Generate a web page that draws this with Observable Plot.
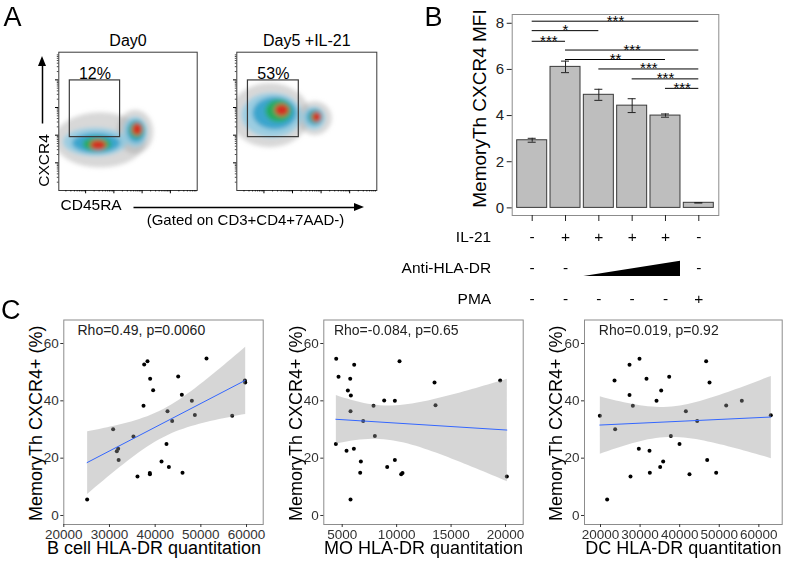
<!DOCTYPE html>
<html><head><meta charset="utf-8">
<script src="https://cdn.jsdelivr.net/npm/d3@7"></script>
<script src="https://cdn.jsdelivr.net/npm/@observablehq/plot@0.6"></script>
<style>
html,body{margin:0;padding:0;background:#fff;}
#fig{position:relative;width:787px;height:566px;overflow:hidden;font-family:"Liberation Sans",Arial,Helvetica,sans-serif;}
</style></head>
<body><div id="fig"></div>
<script>
// ---------------- DATA ----------------
// Panel A: flow cytometry (log decades of CD45RA (x) and CXCR4 (y))
const flowPanels = ["Day0", "Day5 +IL-21"];
const gatePct = ["12%", "53%"];
const gateX = [0.44, 2.22];
const gateY = [1.93, 3.98];
// density blobs: panel, layer (0 gray .. 4 red), centre, half-extent
const blobPanel = [0,0,0,0,0,0,0,0,0,0, 1,1,1,1,1,1,1,1,1,1];
const blobLayer = [0,0,1,1,2,2,3,3,4,4, 0,0,1,1,2,2,3,3,4,4];
const blobX  = [1.53,2.77,1.35,2.77,1.39,2.80,1.42,2.82,1.46,2.84, 1.22,2.79,1.29,2.76,1.39,2.79,1.53,2.83,1.64,2.86];
const blobY  = [1.81,2.10,1.74,2.10,1.70,2.13,1.66,2.17,1.63,2.20, 2.71,2.60,2.71,2.60,2.78,2.64,2.86,2.64,2.89,2.64];
const blobSX = [1.63,0.64,1.13,0.42,0.85,0.32,0.50,0.25,0.28,0.18, 1.40,0.60,1.05,0.39,0.77,0.28,0.46,0.21,0.25,0.16];
const blobSY = [1.00,0.80,0.50,0.54,0.36,0.40,0.25,0.29,0.18,0.22, 1.16,0.61,0.80,0.40,0.58,0.29,0.40,0.22,0.22,0.18];
const flowMajor = [1, 2, 3, 4];

// Panel B: bar chart
const conditions = [1, 2, 3, 4, 5, 6];
const barMeans = [2.93, 6.11, 4.90, 4.43, 4.00, 0.22];
const barSE    = [0.085, 0.25, 0.24, 0.30, 0.07, 0.01];
const yTicksB  = [0, 2, 4, 6, 8];
const sigFrom  = [1, 1, 1, 2, 2, 3, 4, 5];
const sigTo    = [6, 3, 2, 6, 5, 6, 6, 6];
const sigY     = [8.09, 7.68, 7.22, 6.84, 6.43, 6.02, 5.59, 5.18];
const sigLabel = ["***", "*", "***", "***", "**", "***", "***", "***"];
const rowNames = ["IL-21", "Anti-HLA-DR", "PMA"];
const il21  = ["-", "+", "+", "+", "+", "-"];
const antiDR = ["-", "-", "", "", "", "-"];
const pma   = ["-", "-", "-", "-", "-", "+"];
const wedgeX = [2.55, 5.45];
const wedgeTop = [2.26, 1.77];
const wedgeBase = [2.26, 2.26];

// Panel C: scatter plots
const cYTicks = [0, 20, 40, 60];
const bcellX = [25110,30800,31600,31900,32000,35250,36130,37450,37600,38320,38900,38830,38850,39560,41390,42480,42700,43000,43720,45040,45840,45990,48030,48690,51240,56860,59640,59710];
const bcellY = [5.6,30.1,22.4,23.3,19.4,27.6,13.6,38.3,52.7,53.8,47.7,14.8,14.4,43.7,18.8,24.9,36.4,16.9,33.0,48.5,42.1,14.9,40.0,35.1,54.8,34.8,47.1,46.4];
const moX = [4449,4663,4418,5520,5735,5796,5765,6102,5398,6071,5765,6714,6653,6928,7877,8000,8857,9132,9836,9836,10265,10418,10541,13479,13571,19509,20121];
const moY = [54.7,48.4,24.9,43.6,47.7,41.9,36.4,52.6,22.6,23.3,5.6,18.8,14.9,33.0,38.3,27.7,40.1,16.9,40.0,19.4,53.8,14.4,14.8,46.4,38.5,47.1,13.6];
const dcX = [19830,21680,23540,23700,27330,27330,27580,28170,29850,29680,31620,32380,32460,34150,35330,35070,35830,37350,37770,39960,41560,42480,44420,46690,47540,46950,49220,51750,55700,63030];
const dcY = [34.8,5.6,47.1,30.1,52.6,42.0,13.6,38.3,54.7,23.3,47.7,22.6,14.9,40.0,43.6,16.9,18.8,48.4,27.7,24.9,36.4,14.4,33.0,53.8,46.4,19.4,14.9,38.4,40.0,35.0];
const cTitles = ["B cell HLA-DR quantitation", "MO HLA-DR quantitation", "DC HLA-DR quantitation"];
const cRho = ["Rho=0.49, p=0.0060", "Rho=-0.084, p=0.65", "Rho=0.019, p=0.92"];
const cRhoX = [23000, 4240, 19570];
const cRhoY = 64.4;
const cXTicks = [[20000,30000,40000,50000,60000],[5000,10000,15000,20000],[20000,30000,40000,50000,60000]];

// ---------------- LAYOUT / STYLE ----------------
const FONT = "'Liberation Sans', Arial, Helvetica, sans-serif";
const layerColor = ["#a8a8a8", "#8ccbe3", "#2b9fc9", "#22ad4a", "#e3241b"];
const layerOpacity = [0.45, 0.8, 0.85, 0.85, 0.92];
const fig = document.getElementById("fig");
function place(el, left, top) {
  el.style.position = "absolute"; el.style.left = left + "px"; el.style.top = top + "px";
  el.style.overflow = "visible"; fig.appendChild(el); return el;
}
const styleOf = (fs) => ({fontFamily: FONT, fontSize: fs + "px", background: "transparent", color: "#000", overflow: "visible"});
const empty = () => "";

// ---------------- PANEL A ----------------
const minorTicks = [];
for (const d of [0, 1, 2, 3, 4]) for (let k = 2; k <= 9; k++) { const v = d + Math.log10(k); if (v > 0.06 && v < 4.95) minorTicks.push(v); }
const minorY = minorTicks.filter(v => v < 5);

function flowPlot(p, left, frameW) {
  const blobs = blobPanel.map((pp, i) => ({pp, layer: blobLayer[i], x: blobX[i], y: blobY[i], sx: blobSX[i], sy: blobSY[i]})).filter(d => d.pp === p);
  const gate = [{x1: gateX[0], x2: gateX[1], y1: gateY[0], y2: gateY[1], pct: gatePct[p]}];
  const svg = Plot.plot({
    width: 170, height: 160, marginLeft: 18.3, marginRight: 170 - 18.3 - frameW, marginTop: 11.7, marginBottom: 10,
    style: styleOf(16),
    x: {domain: [0.05, 4.95]}, y: {domain: [0, 5]}, color: {type: "identity"},
    marks: [
      Plot.rect(blobs, {x1: d => d.x - d.sx, x2: d => d.x + d.sx, y1: d => d.y - d.sy, y2: d => d.y + d.sy,
        fill: d => layerColor[d.layer], fillOpacity: d => layerOpacity[d.layer], rx: 1000, ry: 1000, clip: true}),
      Plot.rect(gate, {x1: "x1", x2: "x2", y1: "y1", y2: "y2", fill: "none", stroke: "#3a3a3a", strokeWidth: 1.2}),
      Plot.text(gate, {x: d => (d.x1 + d.x2) / 2, y: "y2", text: "pct", lineAnchor: "bottom", dy: -1.5, fontSize: 16, fill: "#000"}),
      Plot.text([flowPanels[p]], {frameAnchor: "top", text: d => d, textAnchor: "middle", lineAnchor: "bottom", dy: -6.5, fontSize: 16, fill: "#000"}),
      Plot.frame({stroke: "#3a3a3a", strokeWidth: 1}),
      Plot.axisY({ticks: flowMajor, tickSize: 3.3, tickFormat: empty, label: null}),
      Plot.axisY({ticks: minorY, tickSize: 1.5, tickFormat: empty, label: null, strokeOpacity: 0.7}),
      Plot.axisX({ticks: flowMajor, tickSize: 3.3, tickFormat: empty, label: null}),
      Plot.axisX({ticks: minorTicks, tickSize: 1.5, tickFormat: empty, label: null, strokeOpacity: 0.7})
    ]
  });
  const ns = "http://www.w3.org/2000/svg";
  const defs = document.createElementNS(ns, "defs");
  defs.innerHTML = `<filter id="blur${p}" x="-50%" y="-50%" width="200%" height="200%"><feGaussianBlur stdDeviation="2.2"/></filter>`;
  svg.prepend(defs);
  const g = svg.querySelector('g[aria-label="rect"]');
  if (g) g.setAttribute("filter", `url(#blur${p})`);
  return place(svg, left, 40);
}
flowPlot(0, 40, 138.4);
flowPlot(1, 218.4, 140);

// ---------------- PANEL B ----------------
const bars = conditions.map((c, i) => ({i: c, mean: barMeans[i], se: barSE[i]}));
const sig = sigFrom.map((f, i) => ({from: f, to: sigTo[i], y: sigY[i], label: sigLabel[i]}));
place(Plot.plot({
  width: 290, height: 230, marginLeft: 71.7, marginRight: 11.7, marginTop: 14, marginBottom: 15,
  style: styleOf(15),
  x: {domain: [0.4, 6.6]}, y: {domain: [-0.33, 8.38]},
  marks: [
    Plot.rect(bars, {x1: d => d.i - 0.45, x2: d => d.i + 0.45, y1: 0, y2: "mean", fill: "#bebebe", stroke: "#3a3a3a", strokeWidth: 1}),
    Plot.ruleX(bars, {x: "i", y1: d => d.mean - d.se, y2: d => d.mean + d.se, stroke: "#222"}),
    Plot.ruleY(bars, {x1: d => d.i - 0.12, x2: d => d.i + 0.12, y: d => d.mean + d.se, stroke: "#222"}),
    Plot.ruleY(bars, {x1: d => d.i - 0.12, x2: d => d.i + 0.12, y: d => d.mean - d.se, stroke: "#222"}),
    Plot.ruleY(sig, {x1: "from", x2: "to", y: "y", stroke: "#000", strokeWidth: 1}),
    Plot.text(sig, {x: d => (d.from + d.to) / 2, y: "y", text: "label", fontSize: 15, lineAnchor: "bottom", dy: 4.5, fill: "#000"}),
    Plot.frame({stroke: "#8c8c8c"}),
    Plot.axisY({ticks: yTicksB, tickSize: 5, tickPadding: 3, fontSize: 15, label: null, color: "#222"}),
    Plot.axisX({ticks: conditions, tickSize: 6, tickFormat: empty, label: null, color: "#222"}),
    Plot.text(["MemoryTh CXCR4 MFI"], {frameAnchor: "left", text: d => d, textAnchor: "middle", rotate: -90, dx: -32, dy: -6.5, fontSize: 19, fill: "#000"})
  ]
}), 440, 0);

// table under panel B
const tableCells = [];
[il21, antiDR, pma].forEach((row, r) => row.forEach((s, i) => { if (s) tableCells.push({i: conditions[i], row: r + 1, s}); }));
const wedge = wedgeX.map((x, i) => ({x, y1: wedgeBase[i], y2: wedgeTop[i]}));
const tbl = Plot.plot({
  width: 290, height: 90, marginLeft: 71.7, marginRight: 11.7, marginTop: 12, marginBottom: 16,
  style: styleOf(15.5),
  x: {domain: [0.4, 6.6], axis: null}, y: {domain: [3, 1], axis: null},
  marks: [
    Plot.text(tableCells, {x: "i", y: "row", text: "s", fontSize: 15.5, fill: "#000", fillOpacity: 0.98}),
    Plot.text(rowNames, {x: () => 0.4, y: (d, i) => i + 1, text: d => d, textAnchor: "end", dx: -21, fontSize: 15.5, fill: "#000"}),
    Plot.areaY(wedge, {x: "x", y1: "y1", y2: "y2", fill: "#000", curve: "linear"})
  ]
});
tbl.style.willChange = "transform";
place(tbl, 440, 225);

// ---------------- PANEL C ----------------
function scatter(k, xs, ys, left, width, marginLeft, marginRight, xDomain, titleDx) {
  const data = xs.map((x, i) => ({x, y: ys[i]}));
  return place(Plot.plot({
    width, height: 276, marginLeft, marginRight, marginTop: 29.5, marginBottom: 42,
    style: styleOf(13.5),
    x: {domain: xDomain}, y: {domain: [-3.14, 68.2]},
    marks: [
      Plot.dot(data, {x: "x", y: "y", r: 2, fill: "#000", stroke: "none"}),
      Plot.linearRegressionY(data, {x: "x", y: "y", stroke: "#3366FF", strokeWidth: 1, fill: "#999", fillOpacity: 0.4, ci: 0.95}),
      Plot.frame({stroke: "#8c8c8c"}),
      Plot.axisY({ticks: cYTicks, tickSize: 3, tickPadding: 2, fontSize: 13.5, label: null, color: "#333"}),
      Plot.axisX({ticks: cXTicks[k], tickSize: 3, tickPadding: 2, fontSize: 13.5, label: null, tickFormat: "d", color: "#333"}),
      Plot.text([cRho[k]], {x: () => cRhoX[k], y: () => cRhoY, text: d => d, textAnchor: "start", fontSize: 14, fill: "#222"}),
      Plot.text([cTitles[k]], {frameAnchor: "bottom", text: d => d, textAnchor: "middle", dy: 29, dx: titleDx, fontSize: 18, fill: "#000"}),
      Plot.text(["MemoryTh CXCR4+ (%)"], {frameAnchor: "left", text: d => d, textAnchor: "middle", rotate: -90, dx: -28, dy: 1, fontSize: 18, fill: "#000"})
    ]
  }), left, 290);
}
scatter(0, bcellX, bcellY, 0, 270, 63.3, 7.3, [20000, 63650], -9.5);
scatter(1, moX, moY, 260, 265, 63.3, 2.3, [3310, 21625], 0);
scatter(2, dcX, dcY, 520, 267, 64, 5.3, [15958, 65900], 0);

// ---------------- OVERLAY ANNOTATIONS ----------------
const panelLetters = [{t: "A", x: 3, y: 25}, {t: "B", x: 424, y: 25}, {t: "C", x: 0.5, y: 318}];
const flowNotes = [{t: "CD45RA", x: 60, y: 205, a: "start"}, {t: "(Gated on CD3+CD4+7AAD-)", x: 245, y: 220, a: "middle"}];
const arrowLines = [{x1: 42, y1: 123, x2: 42, y2: 64}, {x1: 133, y1: 207, x2: 355, y2: 207}];
const headV = [{y: 56, x1: 42, x2: 42}, {y: 66, x1: 38, x2: 46}];
const headH = [{x: 354, y1: 203, y2: 211}, {x: 364, y1: 207, y2: 207}];
const ov = Plot.plot({
  width: 787, height: 566, margin: 0, style: styleOf(15),
  x: {type: "identity", axis: null}, y: {type: "identity", axis: null},
  marks: [
    Plot.text(panelLetters, {x: "x", y: "y", text: "t", textAnchor: "start", lineAnchor: "bottom", fontSize: 27, fill: "#000"}),
    Plot.text(flowNotes, {x: "x", y: "y", text: "t", textAnchor: "start", fontSize: 15.5, fill: "#000", filter: d => d.a === "start"}),
    Plot.text(flowNotes, {x: "x", y: "y", text: "t", textAnchor: "middle", fontSize: 15, fill: "#000", filter: d => d.a === "middle"}),
    Plot.text(["CXCR4"], {x: () => 43.5, y: () => 160, text: d => d, textAnchor: "middle", rotate: -90, fontSize: 15.5, fill: "#000"}),
    Plot.link(arrowLines, {x1: "x1", y1: "y1", x2: "x2", y2: "y2", stroke: "#000", strokeWidth: 1.5}),
    Plot.areaX(headV, {y: "y", x1: "x1", x2: "x2", fill: "#000"}),
    Plot.areaY(headH, {x: "x", y1: "y1", y2: "y2", fill: "#000"})
  ]
});
ov.style.pointerEvents = "none";
place(ov, 0, 0);
</script>
</body></html>
